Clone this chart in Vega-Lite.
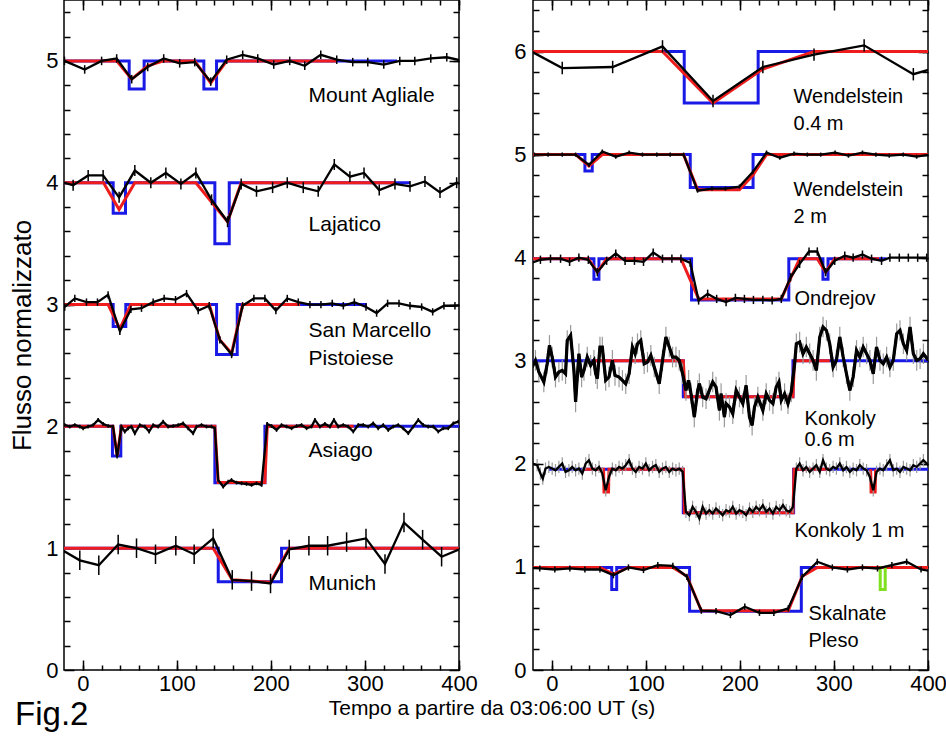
{
"$schema":"https://vega.github.io/schema/vega-lite/v6.json",
"background":"white",
"padding":{"left":9,"top":-2,"right":0,"bottom":0},
"bounds":"flush",
"spacing":74,
"config":{"view":{"stroke":"black","strokeWidth":1.5},
"axis":{"domain":false,"grid":false,"tickColor":"black","tickWidth":1.5,"labelColor":"black","labelFont":"Liberation Sans","labelFontSize":22,"labelFlush":false,"labelOverlap":false,"titleFont":"Liberation Sans","titleFontWeight":"normal","titleColor":"black"}},
"datasets":{
"oL":[
{"s":"MA","t":-19.5,"f":5.0,"e":0.035},{"s":"MA","t":2,"f":4.93,"e":0.035},{"s":"MA","t":20,"f":5.0,"e":0.035},{"s":"MA","t":36,"f":5.02,"e":0.035},{"s":"MA","t":52,"f":4.85,"e":0.035},{"s":"MA","t":69,"f":4.95,"e":0.035},{"s":"MA","t":86,"f":5.02,"e":0.035},{"s":"MA","t":103,"f":4.98,"e":0.035},{"s":"MA","t":119,"f":4.99,"e":0.035},{"s":"MA","t":136,"f":4.83,"e":0.035},{"s":"MA","t":153,"f":5.01,"e":0.035},{"s":"MA","t":170,"f":5.05,"e":0.035},{"s":"MA","t":186,"f":5.02,"e":0.035},{"s":"MA","t":203,"f":4.97,"e":0.035},{"s":"MA","t":220,"f":5.0,"e":0.035},{"s":"MA","t":236,"f":4.96,"e":0.035},{"s":"MA","t":253,"f":5.05,"e":0.035},{"s":"MA","t":270,"f":5.01,"e":0.035},{"s":"MA","t":287,"f":4.99,"e":0.035},{"s":"MA","t":303,"f":4.99,"e":0.035},{"s":"MA","t":320,"f":4.97,"e":0.035},{"s":"MA","t":337,"f":5.0,"e":0.035},{"s":"MA","t":353,"f":5.0,"e":0.035},{"s":"MA","t":370,"f":5.02,"e":0.035},{"s":"MA","t":387,"f":5.03,"e":0.035},{"s":"MA","t":404,"f":5.0,"e":0.035},
{"s":"LJ","t":-24,"f":4.01,"e":0.045},{"s":"LJ","t":-10.3,"f":3.98,"e":0.045},{"s":"LJ","t":5.7,"f":4.06,"e":0.045},{"s":"LJ","t":21.6,"f":4.06,"e":0.045},{"s":"LJ","t":38.6,"f":3.88,"e":0.045},{"s":"LJ","t":55.3,"f":4.1,"e":0.045},{"s":"LJ","t":72.3,"f":4.0,"e":0.045},{"s":"LJ","t":88.3,"f":4.08,"e":0.045},{"s":"LJ","t":104.3,"f":3.99,"e":0.045},{"s":"LJ","t":120.2,"f":4.08,"e":0.045},{"s":"LJ","t":136.9,"f":3.86,"e":0.045},{"s":"LJ","t":153.9,"f":3.68,"e":0.045},{"s":"LJ","t":168.4,"f":3.99,"e":0.045},{"s":"LJ","t":184.7,"f":3.93,"e":0.045},{"s":"LJ","t":201.8,"f":3.96,"e":0.045},{"s":"LJ","t":217.4,"f":4.0,"e":0.045},{"s":"LJ","t":234.4,"f":3.96,"e":0.045},{"s":"LJ","t":250.3,"f":3.93,"e":0.045},{"s":"LJ","t":267.4,"f":4.15,"e":0.045},{"s":"LJ","t":284,"f":4.05,"e":0.045},{"s":"LJ","t":299,"f":4.08,"e":0.045},{"s":"LJ","t":315.2,"f":3.94,"e":0.045},{"s":"LJ","t":331.9,"f":3.99,"e":0.045},{"s":"LJ","t":347.9,"f":3.97,"e":0.045},{"s":"LJ","t":363.8,"f":4.01,"e":0.045},{"s":"LJ","t":379.8,"f":3.92,"e":0.045},{"s":"LJ","t":397.5,"f":4.0,"e":0.045},{"s":"LJ","t":413,"f":3.98,"e":0.045},
{"s":"SM","t":-19.2,"f":2.98,"e":0.03},{"s":"SM","t":-8.5,"f":3.05,"e":0.03},{"s":"SM","t":3.9,"f":3.02,"e":0.03},{"s":"SM","t":15.6,"f":3.02,"e":0.03},{"s":"SM","t":26.9,"f":3.08,"e":0.03},{"s":"SM","t":39.4,"f":2.78,"e":0.03},{"s":"SM","t":51.1,"f":2.96,"e":0.03},{"s":"SM","t":62.4,"f":2.97,"e":0.03},{"s":"SM","t":74.8,"f":3.02,"e":0.03},{"s":"SM","t":86.5,"f":3.05,"e":0.03},{"s":"SM","t":98.6,"f":3.04,"e":0.03},{"s":"SM","t":110.3,"f":3.09,"e":0.03},{"s":"SM","t":122.7,"f":2.95,"e":0.03},{"s":"SM","t":134.4,"f":2.99,"e":0.03},{"s":"SM","t":145.7,"f":2.71,"e":0.03},{"s":"SM","t":158.2,"f":2.59,"e":0.03},{"s":"SM","t":169.9,"f":2.99,"e":0.03},{"s":"SM","t":181.9,"f":3.05,"e":0.03},{"s":"SM","t":193.6,"f":3.05,"e":0.03},{"s":"SM","t":205.3,"f":2.95,"e":0.03},{"s":"SM","t":217.4,"f":3.05,"e":0.03},{"s":"SM","t":229.1,"f":3.02,"e":0.03},{"s":"SM","t":241.5,"f":3.0,"e":0.03},{"s":"SM","t":253.2,"f":3.0,"e":0.03},{"s":"SM","t":265.2,"f":3.01,"e":0.03},{"s":"SM","t":277,"f":2.99,"e":0.03},{"s":"SM","t":288.7,"f":3.02,"e":0.03},{"s":"SM","t":301.1,"f":2.98,"e":0.03},{"s":"SM","t":312.4,"f":2.93,"e":0.03},{"s":"SM","t":324.1,"f":3.01,"e":0.03},{"s":"SM","t":336.2,"f":3.01,"e":0.03},{"s":"SM","t":347.9,"f":2.99,"e":0.03},{"s":"SM","t":360.3,"f":2.98,"e":0.03},{"s":"SM","t":372,"f":2.94,"e":0.03},{"s":"SM","t":384,"f":2.99,"e":0.03},{"s":"SM","t":395.7,"f":2.99,"e":0.03},{"s":"SM","t":407,"f":3.0,"e":0.03},
{"s":"AS","t":-24.5,"f":2.003,"e":0.015},{"s":"AS","t":-19.2,"f":2.011,"e":0.015},{"s":"AS","t":-13.9,"f":1.998,"e":0.015},{"s":"AS","t":-8.5,"f":2.011,"e":0.015},{"s":"AS","t":-3.2,"f":1.998,"e":0.015},{"s":"AS","t":0.3,"f":1.984,"e":0.015},{"s":"AS","t":5.6,"f":1.998,"e":0.015},{"s":"AS","t":11,"f":2.011,"e":0.015},{"s":"AS","t":16.3,"f":2.053,"e":0.015},{"s":"AS","t":21.6,"f":2.02,"e":0.015},{"s":"AS","t":26.9,"f":2.003,"e":0.015},{"s":"AS","t":32.2,"f":1.998,"e":0.015},{"s":"AS","t":36.5,"f":1.751,"e":0.015},{"s":"AS","t":41.1,"f":1.998,"e":0.015},{"s":"AS","t":44.6,"f":1.957,"e":0.015},{"s":"AS","t":48.2,"f":1.984,"e":0.015},{"s":"AS","t":51.7,"f":1.998,"e":0.015},{"s":"AS","t":55.3,"f":1.943,"e":0.015},{"s":"AS","t":60.6,"f":2.011,"e":0.015},{"s":"AS","t":65.9,"f":1.998,"e":0.015},{"s":"AS","t":70.5,"f":1.957,"e":0.015},{"s":"AS","t":74.8,"f":2.011,"e":0.015},{"s":"AS","t":80.1,"f":1.998,"e":0.015},{"s":"AS","t":85.4,"f":2.039,"e":0.015},{"s":"AS","t":90.7,"f":1.998,"e":0.015},{"s":"AS","t":96.1,"f":2.003,"e":0.015},{"s":"AS","t":101.4,"f":2.011,"e":0.015},{"s":"AS","t":106.7,"f":2.025,"e":0.015},{"s":"AS","t":112,"f":1.984,"e":0.015},{"s":"AS","t":117.3,"f":1.943,"e":0.015},{"s":"AS","t":120.9,"f":1.998,"e":0.015},{"s":"AS","t":126.2,"f":2.011,"e":0.015},{"s":"AS","t":131.5,"f":1.998,"e":0.015},{"s":"AS","t":136.8,"f":1.998,"e":0.015},{"s":"AS","t":140.4,"f":1.984,"e":0.015},{"s":"AS","t":143.9,"f":1.56,"e":0.015},{"s":"AS","t":149.3,"f":1.505,"e":0.015},{"s":"AS","t":154.6,"f":1.546,"e":0.015},{"s":"AS","t":158.1,"f":1.56,"e":0.015},{"s":"AS","t":163.4,"f":1.538,"e":0.015},{"s":"AS","t":168.8,"f":1.532,"e":0.015},{"s":"AS","t":174.1,"f":1.527,"e":0.015},{"s":"AS","t":179.4,"f":1.519,"e":0.015},{"s":"AS","t":184.7,"f":1.532,"e":0.015},{"s":"AS","t":190,"f":1.519,"e":0.015},{"s":"AS","t":193.6,"f":1.806,"e":0.015},{"s":"AS","t":196.1,"f":2.02,"e":0.015},{"s":"AS","t":200.7,"f":2.003,"e":0.015},{"s":"AS","t":206,"f":1.97,"e":0.015},{"s":"AS","t":211.3,"f":2.011,"e":0.015},{"s":"AS","t":216.6,"f":1.998,"e":0.015},{"s":"AS","t":222,"f":1.984,"e":0.015},{"s":"AS","t":227.3,"f":2.003,"e":0.015},{"s":"AS","t":232.6,"f":2.011,"e":0.015},{"s":"AS","t":237.9,"f":1.984,"e":0.015},{"s":"AS","t":243.2,"f":1.998,"e":0.015},{"s":"AS","t":246.8,"f":2.053,"e":0.015},{"s":"AS","t":252.1,"f":1.998,"e":0.015},{"s":"AS","t":257.4,"f":2.02,"e":0.015},{"s":"AS","t":262.7,"f":1.998,"e":0.015},{"s":"AS","t":267,"f":2.053,"e":0.015},{"s":"AS","t":271.6,"f":1.998,"e":0.015},{"s":"AS","t":276.9,"f":2.011,"e":0.015},{"s":"AS","t":282.2,"f":1.998,"e":0.015},{"s":"AS","t":287.6,"f":1.957,"e":0.015},{"s":"AS","t":292.9,"f":2.011,"e":0.015},{"s":"AS","t":298.2,"f":2.011,"e":0.015},{"s":"AS","t":303.5,"f":1.998,"e":0.015},{"s":"AS","t":308.8,"f":2.025,"e":0.015},{"s":"AS","t":314.1,"f":1.984,"e":0.015},{"s":"AS","t":319.5,"f":2.011,"e":0.015},{"s":"AS","t":324.8,"f":1.97,"e":0.015},{"s":"AS","t":330.1,"f":1.998,"e":0.015},{"s":"AS","t":335.4,"f":2.011,"e":0.015},{"s":"AS","t":340.7,"f":1.984,"e":0.015},{"s":"AS","t":346.1,"f":1.943,"e":0.015},{"s":"AS","t":351.4,"f":1.998,"e":0.015},{"s":"AS","t":356.7,"f":2.053,"e":0.015},{"s":"AS","t":362,"f":2.011,"e":0.015},{"s":"AS","t":367.3,"f":1.998,"e":0.015},{"s":"AS","t":372.7,"f":1.998,"e":0.015},{"s":"AS","t":378,"f":1.957,"e":0.015},{"s":"AS","t":383.3,"f":1.984,"e":0.015},{"s":"AS","t":388.6,"f":1.984,"e":0.015},{"s":"AS","t":394,"f":2.025,"e":0.015},{"s":"AS","t":399.3,"f":2.039,"e":0.015},
{"s":"MU","t":-23,"f":0.99,"e":0.08},{"s":"MU","t":-3.2,"f":0.9,"e":0.08},{"s":"MU","t":17,"f":0.86,"e":0.08},{"s":"MU","t":37.6,"f":1.03,"e":0.08},{"s":"MU","t":57.1,"f":1.0,"e":0.08},{"s":"MU","t":77.3,"f":0.95,"e":0.08},{"s":"MU","t":98.9,"f":1.02,"e":0.08},{"s":"MU","t":118.4,"f":0.95,"e":0.08},{"s":"MU","t":138.6,"f":1.08,"e":0.08},{"s":"MU","t":158.9,"f":0.74,"e":0.08},{"s":"MU","t":179.4,"f":0.73,"e":0.08},{"s":"MU","t":199.6,"f":0.71,"e":0.08},{"s":"MU","t":219.5,"f":0.99,"e":0.08},{"s":"MU","t":240.4,"f":1.02,"e":0.08},{"s":"MU","t":260.3,"f":1.02,"e":0.08},{"s":"MU","t":280.5,"f":1.05,"e":0.08},{"s":"MU","t":301.1,"f":1.08,"e":0.08},{"s":"MU","t":321.3,"f":0.87,"e":0.08},{"s":"MU","t":341.5,"f":1.21,"e":0.08},{"s":"MU","t":361.3,"f":1.07,"e":0.08},{"s":"MU","t":381.5,"f":0.93,"e":0.08},{"s":"MU","t":400.4,"f":0.99,"e":0.08}
],
"rL":[
{"s":"MA","t":-20,"f":5},{"s":"MA","t":36,"f":5},{"s":"MA","t":52,"f":4.85},{"s":"MA","t":69,"f":4.96},{"s":"MA","t":86,"f":5},{"s":"MA","t":119,"f":5},{"s":"MA","t":136,"f":4.82},{"s":"MA","t":153,"f":5},{"s":"MA","t":270,"f":5},
{"s":"LJ","t":-20,"f":4},{"s":"LJ","t":22,"f":4},{"s":"LJ","t":38.6,"f":3.78},{"s":"LJ","t":55.3,"f":4},{"s":"LJ","t":120.2,"f":4},{"s":"LJ","t":153.9,"f":3.68},{"s":"LJ","t":168.4,"f":4},{"s":"LJ","t":332,"f":4},
{"s":"SM","t":-20,"f":3},{"s":"SM","t":26.9,"f":3},{"s":"SM","t":39.4,"f":2.8},{"s":"SM","t":51.1,"f":3},{"s":"SM","t":134.4,"f":3},{"s":"SM","t":145.7,"f":2.71},{"s":"SM","t":158.2,"f":2.6},{"s":"SM","t":169.9,"f":3},{"s":"SM","t":231,"f":3},
{"s":"AS","t":-20,"f":2},{"s":"AS","t":32,"f":2},{"s":"AS","t":36.5,"f":1.76},{"s":"AS","t":41.1,"f":2},{"s":"AS","t":140.4,"f":2},{"s":"AS","t":144,"f":1.54},{"s":"AS","t":193.6,"f":1.54},{"s":"AS","t":196.1,"f":2},{"s":"AS","t":288,"f":2},
{"s":"MU","t":-20,"f":1},{"s":"MU","t":138.6,"f":1},{"s":"MU","t":158.9,"f":0.74},{"s":"MU","t":179.4,"f":0.73},{"s":"MU","t":199.6,"f":0.72},{"s":"MU","t":219.5,"f":1},{"s":"MU","t":400,"f":1}
],
"bL":[
{"s":"MA","t":-20,"f":5},{"s":"MA","t":49.3,"f":4.77},{"s":"MA","t":65.2,"f":5},{"s":"MA","t":128.7,"f":4.77},{"s":"MA","t":142.2,"f":5},{"s":"MA","t":334,"f":5},
{"s":"LJ","t":-20,"f":4},{"s":"LJ","t":32.3,"f":3.75},{"s":"LJ","t":45.4,"f":4},{"s":"LJ","t":140.4,"f":3.5},{"s":"LJ","t":155.7,"f":4},{"s":"LJ","t":348,"f":4},
{"s":"SM","t":-20,"f":3},{"s":"SM","t":32.3,"f":2.82},{"s":"SM","t":45.7,"f":3},{"s":"SM","t":142.2,"f":2.59},{"s":"SM","t":164.2,"f":3},{"s":"SM","t":302,"f":3},
{"s":"AS","t":-20,"f":2},{"s":"AS","t":31.5,"f":1.757},{"s":"AS","t":40.4,"f":2},{"s":"AS","t":140.4,"f":1.538},{"s":"AS","t":193.6,"f":2},{"s":"AS","t":400,"f":2},
{"s":"MU","t":-20,"f":1},{"s":"MU","t":144,"f":0.725},{"s":"MU","t":211.3,"f":1},{"s":"MU","t":400,"f":1}
],
"lL":[
{"txt":"Mount Agliale","t":240,"f":4.66},{"txt":"Lajatico","t":240,"f":3.6},{"txt":"San Marcello","t":240,"f":2.73},{"txt":"Pistoiese","t":240,"f":2.5},{"txt":"Asiago","t":240,"f":1.75},{"txt":"Munich","t":240,"f":0.66}
],
"oR":[
{"s":"W04","t":-42,"f":6.1,"e":0.06},{"s":"W04","t":11.1,"f":5.84,"e":0.06},{"s":"W04","t":64.7,"f":5.85,"e":0.06},{"s":"W04","t":117.7,"f":6.05,"e":0.06},{"s":"W04","t":171.4,"f":5.52,"e":0.06},{"s":"W04","t":224.4,"f":5.85,"e":0.06},{"s":"W04","t":278.8,"f":5.97,"e":0.06},{"s":"W04","t":332.1,"f":6.06,"e":0.06},{"s":"W04","t":384.4,"f":5.78,"e":0.06},{"s":"W04","t":437.7,"f":5.92,"e":0.06},
{"s":"W2","t":-18.5,"f":5.0,"e":0.02},{"s":"W2","t":-3.9,"f":5.0,"e":0.02},{"s":"W2","t":11.1,"f":5.0,"e":0.02},{"s":"W2","t":25.3,"f":5.0,"e":0.02},{"s":"W2","t":39.5,"f":4.9,"e":0.02},{"s":"W2","t":53.7,"f":5.03,"e":0.02},{"s":"W2","t":68,"f":4.98,"e":0.02},{"s":"W2","t":82.2,"f":5.02,"e":0.02},{"s":"W2","t":96.4,"f":5.0,"e":0.02},{"s":"W2","t":111.7,"f":5.0,"e":0.02},{"s":"W2","t":125.9,"f":5.0,"e":0.02},{"s":"W2","t":140.1,"f":5.0,"e":0.02},{"s":"W2","t":155,"f":4.65,"e":0.02},{"s":"W2","t":170.3,"f":4.67,"e":0.02},{"s":"W2","t":184.6,"f":4.67,"e":0.02},{"s":"W2","t":199.5,"f":4.69,"e":0.02},{"s":"W2","t":213.7,"f":4.83,"e":0.02},{"s":"W2","t":228.3,"f":5.02,"e":0.02},{"s":"W2","t":242.5,"f":4.97,"e":0.02},{"s":"W2","t":257.5,"f":5.01,"e":0.02},{"s":"W2","t":271.7,"f":5.0,"e":0.02},{"s":"W2","t":285.9,"f":5.0,"e":0.02},{"s":"W2","t":301.2,"f":5.02,"e":0.02},{"s":"W2","t":315.4,"f":4.99,"e":0.02},{"s":"W2","t":330.3,"f":5.02,"e":0.02},{"s":"W2","t":344.6,"f":5.0,"e":0.02},{"s":"W2","t":358.8,"f":4.99,"e":0.02},{"s":"W2","t":373.7,"f":5.0,"e":0.02},{"s":"W2","t":387.9,"f":4.98,"e":0.02},{"s":"W2","t":402.2,"f":5.0,"e":0.02},
{"s":"ON","t":-24.5,"f":3.94,"e":0.04},{"s":"ON","t":-12.1,"f":3.98,"e":0.04},{"s":"ON","t":-1.4,"f":3.99,"e":0.04},{"s":"ON","t":9.3,"f":3.99,"e":0.04},{"s":"ON","t":18.9,"f":3.96,"e":0.04},{"s":"ON","t":28.8,"f":4.0,"e":0.04},{"s":"ON","t":38.8,"f":3.98,"e":0.04},{"s":"ON","t":48.4,"f":3.86,"e":0.04},{"s":"ON","t":58.3,"f":3.97,"e":0.04},{"s":"ON","t":68,"f":4.04,"e":0.04},{"s":"ON","t":77.9,"f":3.97,"e":0.04},{"s":"ON","t":87.9,"f":3.97,"e":0.04},{"s":"ON","t":97.5,"f":3.96,"e":0.04},{"s":"ON","t":107.8,"f":4.05,"e":0.04},{"s":"ON","t":117.7,"f":3.99,"e":0.04},{"s":"ON","t":127.7,"f":3.99,"e":0.04},{"s":"ON","t":137.3,"f":3.99,"e":0.04},{"s":"ON","t":147.2,"f":3.95,"e":0.04},{"s":"ON","t":156.1,"f":3.585,"e":0.04},{"s":"ON","t":165.7,"f":3.65,"e":0.04},{"s":"ON","t":175.3,"f":3.6,"e":0.04},{"s":"ON","t":185.3,"f":3.57,"e":0.04},{"s":"ON","t":195.2,"f":3.61,"e":0.04},{"s":"ON","t":204.8,"f":3.6,"e":0.04},{"s":"ON","t":214.4,"f":3.59,"e":0.04},{"s":"ON","t":224.4,"f":3.59,"e":0.04},{"s":"ON","t":234.3,"f":3.585,"e":0.04},{"s":"ON","t":244,"f":3.6,"e":0.04},{"s":"ON","t":253.9,"f":3.81,"e":0.04},{"s":"ON","t":263.5,"f":3.94,"e":0.04},{"s":"ON","t":273.5,"f":4.06,"e":0.04},{"s":"ON","t":282.3,"f":4.06,"e":0.04},{"s":"ON","t":291.2,"f":3.86,"e":0.04},{"s":"ON","t":300.8,"f":3.97,"e":0.04},{"s":"ON","t":311.5,"f":4.02,"e":0.04},{"s":"ON","t":320.4,"f":4.0,"e":0.04},{"s":"ON","t":330.3,"f":4.03,"e":0.04},{"s":"ON","t":340,"f":3.99,"e":0.04},{"s":"ON","t":350.6,"f":3.97,"e":0.04},{"s":"ON","t":359.5,"f":4.0,"e":0.04},{"s":"ON","t":369.5,"f":4.0,"e":0.04},{"s":"ON","t":379.1,"f":4.0,"e":0.04},{"s":"ON","t":389,"f":4.0,"e":0.04},{"s":"ON","t":398.6,"f":4.0,"e":0.04},
{"s":"K6","t":-20.9,"f":2.939,"e":0.1},{"s":"K6","t":-17.4,"f":3.004,"e":0.1},{"s":"K6","t":-13.8,"f":2.891,"e":0.1},{"s":"K6","t":-8.5,"f":2.794,"e":0.1},{"s":"K6","t":-4.9,"f":2.971,"e":0.1},{"s":"K6","t":-2.5,"f":3.149,"e":0.1},{"s":"K6","t":0.4,"f":3.036,"e":0.1},{"s":"K6","t":3.9,"f":2.842,"e":0.1},{"s":"K6","t":7.5,"f":2.891,"e":0.1},{"s":"K6","t":11.1,"f":2.907,"e":0.1},{"s":"K6","t":14.6,"f":2.874,"e":0.1},{"s":"K6","t":16.4,"f":3.197,"e":0.1},{"s":"K6","t":20,"f":3.246,"e":0.1},{"s":"K6","t":23.5,"f":2.907,"e":0.1},{"s":"K6","t":25.3,"f":2.6,"e":0.1},{"s":"K6","t":28.8,"f":3.068,"e":0.1},{"s":"K6","t":31.7,"f":2.842,"e":0.1},{"s":"K6","t":34.2,"f":2.907,"e":0.1},{"s":"K6","t":37.7,"f":3.036,"e":0.1},{"s":"K6","t":41.3,"f":2.955,"e":0.1},{"s":"K6","t":44.8,"f":3.004,"e":0.1},{"s":"K6","t":46.6,"f":2.874,"e":0.1},{"s":"K6","t":48.4,"f":2.826,"e":0.1},{"s":"K6","t":51.2,"f":3.133,"e":0.1},{"s":"K6","t":53.7,"f":3.133,"e":0.1},{"s":"K6","t":57.3,"f":2.81,"e":0.1},{"s":"K6","t":60.8,"f":2.842,"e":0.1},{"s":"K6","t":64.4,"f":3.004,"e":0.1},{"s":"K6","t":67.2,"f":2.858,"e":0.1},{"s":"K6","t":71.5,"f":2.842,"e":0.1},{"s":"K6","t":75.1,"f":2.81,"e":0.1},{"s":"K6","t":78.6,"f":2.777,"e":0.1},{"s":"K6","t":82.2,"f":2.874,"e":0.1},{"s":"K6","t":85.7,"f":3.133,"e":0.1},{"s":"K6","t":88.6,"f":3.068,"e":0.1},{"s":"K6","t":91.1,"f":3.165,"e":0.1},{"s":"K6","t":94.6,"f":3.197,"e":0.1},{"s":"K6","t":98.2,"f":2.971,"e":0.1},{"s":"K6","t":101.7,"f":2.987,"e":0.1},{"s":"K6","t":105.3,"f":3.052,"e":0.1},{"s":"K6","t":108.9,"f":2.939,"e":0.1},{"s":"K6","t":114.2,"f":2.777,"e":0.1},{"s":"K6","t":117.7,"f":3.004,"e":0.1},{"s":"K6","t":121.3,"f":3.23,"e":0.1},{"s":"K6","t":124.9,"f":3.133,"e":0.1},{"s":"K6","t":128.4,"f":3.036,"e":0.1},{"s":"K6","t":132,"f":3.036,"e":0.1},{"s":"K6","t":135.5,"f":3.004,"e":0.1},{"s":"K6","t":139.1,"f":2.874,"e":0.1},{"s":"K6","t":142.6,"f":2.713,"e":0.1},{"s":"K6","t":145.5,"f":2.81,"e":0.1},{"s":"K6","t":148,"f":2.681,"e":0.1},{"s":"K6","t":151.5,"f":2.454,"e":0.1},{"s":"K6","t":155.1,"f":2.713,"e":0.1},{"s":"K6","t":156.9,"f":2.777,"e":0.1},{"s":"K6","t":160.4,"f":2.648,"e":0.1},{"s":"K6","t":164,"f":2.632,"e":0.1},{"s":"K6","t":167.5,"f":2.713,"e":0.1},{"s":"K6","t":171.1,"f":2.794,"e":0.1},{"s":"K6","t":174.6,"f":2.745,"e":0.1},{"s":"K6","t":178.2,"f":2.519,"e":0.1},{"s":"K6","t":180,"f":2.681,"e":0.1},{"s":"K6","t":183.5,"f":2.454,"e":0.1},{"s":"K6","t":185.3,"f":2.584,"e":0.1},{"s":"K6","t":188.9,"f":2.551,"e":0.1},{"s":"K6","t":192.4,"f":2.487,"e":0.1},{"s":"K6","t":196,"f":2.713,"e":0.1},{"s":"K6","t":199.5,"f":2.648,"e":0.1},{"s":"K6","t":203.1,"f":2.584,"e":0.1},{"s":"K6","t":206.6,"f":2.761,"e":0.1},{"s":"K6","t":210.2,"f":2.454,"e":0.1},{"s":"K6","t":213,"f":2.374,"e":0.1},{"s":"K6","t":215.5,"f":2.551,"e":0.1},{"s":"K6","t":219.1,"f":2.648,"e":0.1},{"s":"K6","t":224.4,"f":2.519,"e":0.1},{"s":"K6","t":228,"f":2.681,"e":0.1},{"s":"K6","t":231.5,"f":2.616,"e":0.1},{"s":"K6","t":235.1,"f":2.584,"e":0.1},{"s":"K6","t":238.6,"f":2.745,"e":0.1},{"s":"K6","t":241.5,"f":2.794,"e":0.1},{"s":"K6","t":244,"f":2.616,"e":0.1},{"s":"K6","t":247.5,"f":2.681,"e":0.1},{"s":"K6","t":251.1,"f":2.584,"e":0.1},{"s":"K6","t":254.6,"f":2.697,"e":0.1},{"s":"K6","t":258.2,"f":2.971,"e":0.1},{"s":"K6","t":260,"f":3.165,"e":0.1},{"s":"K6","t":263.5,"f":3.181,"e":0.1},{"s":"K6","t":267.1,"f":3.068,"e":0.1},{"s":"K6","t":270.6,"f":3.133,"e":0.1},{"s":"K6","t":274.2,"f":3.068,"e":0.1},{"s":"K6","t":277.8,"f":3.004,"e":0.1},{"s":"K6","t":281.3,"f":2.907,"e":0.1},{"s":"K6","t":284.9,"f":3.23,"e":0.1},{"s":"K6","t":288.4,"f":3.327,"e":0.1},{"s":"K6","t":292,"f":3.294,"e":0.1},{"s":"K6","t":295.5,"f":3.165,"e":0.1},{"s":"K6","t":299.1,"f":2.939,"e":0.1},{"s":"K6","t":302.6,"f":3.004,"e":0.1},{"s":"K6","t":306.2,"f":3.23,"e":0.1},{"s":"K6","t":309.8,"f":3.036,"e":0.1},{"s":"K6","t":313.3,"f":2.874,"e":0.1},{"s":"K6","t":316.9,"f":2.713,"e":0.1},{"s":"K6","t":320.4,"f":2.842,"e":0.1},{"s":"K6","t":324,"f":3.1,"e":0.1},{"s":"K6","t":327.5,"f":3.036,"e":0.1},{"s":"K6","t":331.1,"f":3.133,"e":0.1},{"s":"K6","t":334.7,"f":3.068,"e":0.1},{"s":"K6","t":338.2,"f":3.004,"e":0.1},{"s":"K6","t":341.8,"f":2.874,"e":0.1},{"s":"K6","t":345.3,"f":3.133,"e":0.1},{"s":"K6","t":348.9,"f":3.004,"e":0.1},{"s":"K6","t":352.4,"f":2.971,"e":0.1},{"s":"K6","t":356,"f":3.036,"e":0.1},{"s":"K6","t":359.5,"f":2.939,"e":0.1},{"s":"K6","t":363.1,"f":3.004,"e":0.1},{"s":"K6","t":366.7,"f":3.262,"e":0.1},{"s":"K6","t":370.2,"f":3.294,"e":0.1},{"s":"K6","t":373.8,"f":3.165,"e":0.1},{"s":"K6","t":377.3,"f":3.1,"e":0.1},{"s":"K6","t":380.9,"f":3.327,"e":0.1},{"s":"K6","t":384.4,"f":3.068,"e":0.1},{"s":"K6","t":388,"f":3.004,"e":0.1},{"s":"K6","t":391.6,"f":3.02,"e":0.1},{"s":"K6","t":395.1,"f":3.068,"e":0.1},{"s":"K6","t":400.4,"f":3.004,"e":0.1},
{"s":"K1","t":-20.9,"f":2.003,"e":0.06},{"s":"K1","t":-15.6,"f":1.987,"e":0.06},{"s":"K1","t":-12.1,"f":1.906,"e":0.06},{"s":"K1","t":-9.6,"f":1.857,"e":0.06},{"s":"K1","t":-6.7,"f":1.954,"e":0.06},{"s":"K1","t":-3.2,"f":1.97,"e":0.06},{"s":"K1","t":0.4,"f":1.954,"e":0.06},{"s":"K1","t":3.9,"f":1.938,"e":0.06},{"s":"K1","t":7.5,"f":1.97,"e":0.06},{"s":"K1","t":11.1,"f":2.003,"e":0.06},{"s":"K1","t":14.6,"f":1.922,"e":0.06},{"s":"K1","t":18.2,"f":1.938,"e":0.06},{"s":"K1","t":21.7,"f":1.97,"e":0.06},{"s":"K1","t":25.3,"f":1.938,"e":0.06},{"s":"K1","t":28.8,"f":1.954,"e":0.06},{"s":"K1","t":32.4,"f":1.906,"e":0.06},{"s":"K1","t":36,"f":2.003,"e":0.06},{"s":"K1","t":39.5,"f":2.035,"e":0.06},{"s":"K1","t":43.1,"f":1.954,"e":0.06},{"s":"K1","t":46.6,"f":1.938,"e":0.06},{"s":"K1","t":50.2,"f":1.97,"e":0.06},{"s":"K1","t":53.7,"f":1.906,"e":0.06},{"s":"K1","t":57.3,"f":1.744,"e":0.06},{"s":"K1","t":60.8,"f":1.873,"e":0.06},{"s":"K1","t":64.4,"f":1.954,"e":0.06},{"s":"K1","t":68,"f":1.938,"e":0.06},{"s":"K1","t":71.5,"f":1.97,"e":0.06},{"s":"K1","t":75.1,"f":1.954,"e":0.06},{"s":"K1","t":78.6,"f":1.987,"e":0.06},{"s":"K1","t":82.2,"f":2.035,"e":0.06},{"s":"K1","t":85.7,"f":1.954,"e":0.06},{"s":"K1","t":89.3,"f":1.922,"e":0.06},{"s":"K1","t":92.8,"f":1.97,"e":0.06},{"s":"K1","t":96.4,"f":1.954,"e":0.06},{"s":"K1","t":100,"f":2.003,"e":0.06},{"s":"K1","t":103.5,"f":1.938,"e":0.06},{"s":"K1","t":107.1,"f":1.97,"e":0.06},{"s":"K1","t":110.6,"f":1.987,"e":0.06},{"s":"K1","t":114.2,"f":1.922,"e":0.06},{"s":"K1","t":117.7,"f":1.954,"e":0.06},{"s":"K1","t":121.3,"f":1.97,"e":0.06},{"s":"K1","t":124.9,"f":1.922,"e":0.06},{"s":"K1","t":128.4,"f":1.954,"e":0.06},{"s":"K1","t":132,"f":1.938,"e":0.06},{"s":"K1","t":135.5,"f":1.954,"e":0.06},{"s":"K1","t":139.1,"f":1.922,"e":0.06},{"s":"K1","t":142.6,"f":1.534,"e":0.06},{"s":"K1","t":146.2,"f":1.502,"e":0.06},{"s":"K1","t":149.7,"f":1.583,"e":0.06},{"s":"K1","t":153.3,"f":1.534,"e":0.06},{"s":"K1","t":156.9,"f":1.47,"e":0.06},{"s":"K1","t":160.4,"f":1.583,"e":0.06},{"s":"K1","t":164,"f":1.518,"e":0.06},{"s":"K1","t":167.5,"f":1.55,"e":0.06},{"s":"K1","t":171.1,"f":1.518,"e":0.06},{"s":"K1","t":174.6,"f":1.567,"e":0.06},{"s":"K1","t":178.2,"f":1.534,"e":0.06},{"s":"K1","t":181.7,"f":1.502,"e":0.06},{"s":"K1","t":185.3,"f":1.55,"e":0.06},{"s":"K1","t":188.9,"f":1.534,"e":0.06},{"s":"K1","t":192.4,"f":1.583,"e":0.06},{"s":"K1","t":196,"f":1.518,"e":0.06},{"s":"K1","t":199.5,"f":1.55,"e":0.06},{"s":"K1","t":203.1,"f":1.534,"e":0.06},{"s":"K1","t":206.6,"f":1.502,"e":0.06},{"s":"K1","t":210.2,"f":1.567,"e":0.06},{"s":"K1","t":213.7,"f":1.534,"e":0.06},{"s":"K1","t":217.3,"f":1.583,"e":0.06},{"s":"K1","t":220.8,"f":1.55,"e":0.06},{"s":"K1","t":224.4,"f":1.599,"e":0.06},{"s":"K1","t":228,"f":1.534,"e":0.06},{"s":"K1","t":231.5,"f":1.567,"e":0.06},{"s":"K1","t":235.1,"f":1.518,"e":0.06},{"s":"K1","t":238.6,"f":1.583,"e":0.06},{"s":"K1","t":242.2,"f":1.55,"e":0.06},{"s":"K1","t":245.8,"f":1.599,"e":0.06},{"s":"K1","t":249.3,"f":1.55,"e":0.06},{"s":"K1","t":252.9,"f":1.534,"e":0.06},{"s":"K1","t":256.4,"f":1.583,"e":0.06},{"s":"K1","t":260,"f":1.954,"e":0.06},{"s":"K1","t":263.5,"f":2.003,"e":0.06},{"s":"K1","t":267.1,"f":1.938,"e":0.06},{"s":"K1","t":270.6,"f":1.97,"e":0.06},{"s":"K1","t":274.2,"f":1.922,"e":0.06},{"s":"K1","t":277.8,"f":1.954,"e":0.06},{"s":"K1","t":281.3,"f":1.987,"e":0.06},{"s":"K1","t":284.9,"f":1.922,"e":0.06},{"s":"K1","t":288.4,"f":2.035,"e":0.06},{"s":"K1","t":292,"f":1.954,"e":0.06},{"s":"K1","t":295.5,"f":1.938,"e":0.06},{"s":"K1","t":299.1,"f":1.97,"e":0.06},{"s":"K1","t":302.6,"f":1.954,"e":0.06},{"s":"K1","t":306.2,"f":2.003,"e":0.06},{"s":"K1","t":309.8,"f":1.938,"e":0.06},{"s":"K1","t":313.3,"f":1.97,"e":0.06},{"s":"K1","t":316.9,"f":1.922,"e":0.06},{"s":"K1","t":320.4,"f":1.954,"e":0.06},{"s":"K1","t":324,"f":1.938,"e":0.06},{"s":"K1","t":327.5,"f":1.987,"e":0.06},{"s":"K1","t":331.1,"f":1.954,"e":0.06},{"s":"K1","t":334.7,"f":1.938,"e":0.06},{"s":"K1","t":338.2,"f":1.873,"e":0.06},{"s":"K1","t":341.8,"f":1.744,"e":0.06},{"s":"K1","t":345.3,"f":1.922,"e":0.06},{"s":"K1","t":348.9,"f":1.954,"e":0.06},{"s":"K1","t":352.4,"f":1.938,"e":0.06},{"s":"K1","t":356,"f":1.987,"e":0.06},{"s":"K1","t":359.5,"f":2.035,"e":0.06},{"s":"K1","t":363.1,"f":1.938,"e":0.06},{"s":"K1","t":366.7,"f":1.954,"e":0.06},{"s":"K1","t":370.2,"f":1.922,"e":0.06},{"s":"K1","t":373.8,"f":1.97,"e":0.06},{"s":"K1","t":377.3,"f":1.954,"e":0.06},{"s":"K1","t":380.9,"f":1.938,"e":0.06},{"s":"K1","t":384.4,"f":1.987,"e":0.06},{"s":"K1","t":388,"f":1.97,"e":0.06},{"s":"K1","t":391.6,"f":2.003,"e":0.06},{"s":"K1","t":395.1,"f":2.035,"e":0.06},{"s":"K1","t":400.4,"f":1.987,"e":0.06},
{"s":"SP","t":-28.8,"f":0.995,"e":0.03},{"s":"SP","t":-12.8,"f":0.985,"e":0.03},{"s":"SP","t":3.2,"f":0.975,"e":0.03},{"s":"SP","t":19.2,"f":0.985,"e":0.03},{"s":"SP","t":35.2,"f":0.975,"e":0.03},{"s":"SP","t":51.2,"f":0.975,"e":0.03},{"s":"SP","t":65.5,"f":0.92,"e":0.03},{"s":"SP","t":81.5,"f":0.995,"e":0.03},{"s":"SP","t":97.5,"f":0.97,"e":0.03},{"s":"SP","t":112.7,"f":1.017,"e":0.03},{"s":"SP","t":128.7,"f":1.01,"e":0.03},{"s":"SP","t":143.7,"f":0.904,"e":0.03},{"s":"SP","t":159,"f":0.575,"e":0.03},{"s":"SP","t":174.6,"f":0.572,"e":0.03},{"s":"SP","t":189.9,"f":0.533,"e":0.03},{"s":"SP","t":205.2,"f":0.614,"e":0.03},{"s":"SP","t":220.8,"f":0.555,"e":0.03},{"s":"SP","t":236.1,"f":0.555,"e":0.03},{"s":"SP","t":251.4,"f":0.597,"e":0.03},{"s":"SP","t":266.3,"f":0.904,"e":0.03},{"s":"SP","t":282.3,"f":1.05,"e":0.03},{"s":"SP","t":298.3,"f":0.995,"e":0.03},{"s":"SP","t":314.3,"f":0.975,"e":0.03},{"s":"SP","t":330.3,"f":0.995,"e":0.03},{"s":"SP","t":346.3,"f":0.985,"e":0.03},{"s":"SP","t":361.6,"f":1.017,"e":0.03},{"s":"SP","t":377.3,"f":1.05,"e":0.03},{"s":"SP","t":392.6,"f":0.975,"e":0.03},{"s":"SP","t":408.6,"f":0.95,"e":0.03}
],
"rR":[
{"s":"W04","t":-20,"f":6},{"s":"W04","t":117.7,"f":6},{"s":"W04","t":171.4,"f":5.5},{"s":"W04","t":224.4,"f":5.83},{"s":"W04","t":278.8,"f":6},{"s":"W04","t":400,"f":6},
{"s":"W2","t":-20,"f":5},{"s":"W2","t":25.3,"f":5},{"s":"W2","t":39.5,"f":4.89},{"s":"W2","t":53.7,"f":5},{"s":"W2","t":140.1,"f":5},{"s":"W2","t":155,"f":4.66},{"s":"W2","t":199.5,"f":4.66},{"s":"W2","t":213.7,"f":4.8},{"s":"W2","t":228.3,"f":5},{"s":"W2","t":400,"f":5},
{"s":"ON","t":-20,"f":3.99},{"s":"ON","t":38.8,"f":3.99},{"s":"ON","t":48.4,"f":3.86},{"s":"ON","t":58.3,"f":3.99},{"s":"ON","t":137.3,"f":3.99},{"s":"ON","t":156.1,"f":3.6},{"s":"ON","t":244,"f":3.6},{"s":"ON","t":253.9,"f":3.8},{"s":"ON","t":263.5,"f":3.99},{"s":"ON","t":282.3,"f":3.99},{"s":"ON","t":291.2,"f":3.86},{"s":"ON","t":300.8,"f":3.99},{"s":"ON","t":348,"f":3.99},
{"s":"K6","t":43,"f":3.0},{"s":"K6","t":139.8,"f":3.0},{"s":"K6","t":142,"f":2.65},{"s":"K6","t":256.4,"f":2.65},{"s":"K6","t":258,"f":3.0},{"s":"K6","t":295.5,"f":3.0},
{"s":"K1","t":34,"f":1.948},{"s":"K1","t":55,"f":1.948},{"s":"K1","t":55.5,"f":1.728},{"s":"K1","t":60.3,"f":1.728},{"s":"K1","t":60.8,"f":1.948},{"s":"K1","t":139.8,"f":1.948},{"s":"K1","t":141,"f":1.525},{"s":"K1","t":256.4,"f":1.525},{"s":"K1","t":257.6,"f":1.948},{"s":"K1","t":295,"f":1.948},
{"s":"K1b","t":339,"f":1.948},{"s":"K1b","t":339.5,"f":1.728},{"s":"K1b","t":343.8,"f":1.728},{"s":"K1b","t":344.3,"f":1.948},
{"s":"SP","t":-20,"f":0.995},{"s":"SP","t":51.2,"f":0.995},{"s":"SP","t":65.5,"f":0.93},{"s":"SP","t":81.5,"f":0.995},{"s":"SP","t":128.7,"f":0.995},{"s":"SP","t":143.7,"f":0.91},{"s":"SP","t":159,"f":0.575},{"s":"SP","t":251.4,"f":0.575},{"s":"SP","t":266.3,"f":0.91},{"s":"SP","t":282.3,"f":0.995},{"s":"SP","t":400,"f":0.995}
],
"bR":[
{"s":"W04","t":-20,"f":6},{"s":"W04","t":140.8,"f":5.5},{"s":"W04","t":219.4,"f":6},{"s":"W04","t":400,"f":6},
{"s":"W2","t":-20,"f":5},{"s":"W2","t":35.2,"f":4.84},{"s":"W2","t":43,"f":5},{"s":"W2","t":147.2,"f":4.68},{"s":"W2","t":214,"f":5},{"s":"W2","t":400,"f":5},
{"s":"ON","t":-20,"f":3.99},{"s":"ON","t":44.8,"f":3.79},{"s":"ON","t":50.1,"f":3.99},{"s":"ON","t":148.6,"f":3.59},{"s":"ON","t":252,"f":3.99},{"s":"ON","t":288.3,"f":3.79},{"s":"ON","t":293.7,"f":3.99},{"s":"ON","t":356,"f":3.99},
{"s":"K6","t":-20,"f":3.0},{"s":"K6","t":139.8,"f":2.65},{"s":"K6","t":256.4,"f":3.0},{"s":"K6","t":400,"f":3.0},
{"s":"K1","t":-3,"f":1.948},{"s":"K1","t":139.8,"f":1.525},{"s":"K1","t":257.1,"f":1.948},{"s":"K1","t":400,"f":1.948},
{"s":"SP","t":-20,"f":0.995},{"s":"SP","t":63.7,"f":0.78},{"s":"SP","t":69,"f":0.995},{"s":"SP","t":146.5,"f":0.57},{"s":"SP","t":265.3,"f":0.995},{"s":"SP","t":400,"f":0.995}
],
"gR":[
{"s":"SPg","t":349,"f":0.995},{"s":"SPg","t":349.2,"f":0.78},{"s":"SPg","t":354.5,"f":0.995},{"s":"SPg","t":354.7,"f":0.995}
],
"lR":[
{"txt":"Wendelstein","t":257,"f":5.5},{"txt":"0.4 m","t":257,"f":5.24},{"txt":"Wendelstein","t":257,"f":4.6},{"txt":"2 m","t":257,"f":4.34},{"txt":"Ondrejov","t":258,"f":3.54},{"txt":"Konkoly","t":268.8,"f":2.38},{"txt":"0.6 m","t":268.8,"f":2.17},{"txt":"Konkoly 1 m","t":258,"f":1.29},{"txt":"Skalnate","t":273,"f":0.485},{"txt":"Pleso","t":273,"f":0.22}
]
},
"hconcat":[
{
"width":395,"height":670,
"resolve":{"axis":{"x":"independent","y":"independent"}},
"layer":[
{"data":{"name":"bL"},"mark":{"type":"line","interpolate":"step-after","color":"#1a1ae6","strokeWidth":3,"clip":true},
"encoding":{"x":{"field":"t","type":"quantitative","scale":{"domain":[-20,400],"nice":false,"zero":false},"axis":{"orient":"bottom","values":[0,100,200,300,400],"ticks":false,"labelPadding":3,"title":null}},
"y":{"field":"f","type":"quantitative","scale":{"domain":[0,5.5],"nice":false,"zero":false},"axis":{"orient":"left","values":[0,1,2,3,4,5],"ticks":false,"labelPadding":6,"title":"Flusso normalizzato","titleFontSize":26,"titlePadding":10}},
"detail":{"field":"s"}}},
{"data":{"name":"rL"},"mark":{"type":"line","color":"#ee1c1c","strokeWidth":3,"clip":true},
"encoding":{"x":{"field":"t","type":"quantitative","scale":{"domain":[-20,400],"nice":false,"zero":false},"axis":{"orient":"bottom","values":[0,100,200,300,400],"labels":false,"tickSize":-10,"title":null}},
"y":{"field":"f","type":"quantitative","scale":{"domain":[0,5.5],"nice":false,"zero":false},"axis":{"orient":"left","values":[0,1,2,3,4,5],"labels":false,"tickSize":-10,"title":null}},
"detail":{"field":"s"}}},
{"data":{"name":"oL"},"transform":[{"filter":"datum.t >= -20 && datum.t <= 400"}],"mark":{"type":"errorbar","color":"black","thickness":1.5},
"encoding":{"x":{"field":"t","type":"quantitative","scale":{"domain":[-20,400],"nice":false,"zero":false},"axis":null},
"y":{"field":"f","type":"quantitative","scale":{"domain":[0,5.5],"nice":false,"zero":false},"axis":null},
"yError":{"field":"e"}}},
{"data":{"name":"oL"},"mark":{"type":"line","color":"black","strokeWidth":2.3,"clip":true},
"encoding":{"x":{"field":"t","type":"quantitative","scale":{"domain":[-20,400],"nice":false,"zero":false},"axis":{"orient":"bottom","values":[0,20,40,60,80,100,120,140,160,180,200,220,240,260,280,300,320,340,360,380,400],"labels":false,"tickSize":-5,"title":null}},
"y":{"field":"f","type":"quantitative","scale":{"domain":[0,5.5],"nice":false,"zero":false},"axis":{"orient":"left","values":[0.2,0.4,0.6,0.8,1,1.2,1.4,1.6,1.8,2,2.2,2.4,2.6,2.8,3,3.2,3.4,3.6,3.8,4,4.2,4.4,4.6,4.8,5,5.2,5.4],"labels":false,"tickSize":-6,"title":null}},
"detail":{"field":"s"}}},
{"data":{"name":"lL"},"mark":{"type":"text","align":"left","baseline":"alphabetic","fontSize":21,"font":"Liberation Sans","color":"black"},
"encoding":{"x":{"field":"t","type":"quantitative","scale":{"domain":[-20,400],"nice":false,"zero":false},"axis":{"orient":"top","values":[0,100,200,300,400],"labels":false,"tickSize":-10,"title":null}},
"y":{"field":"f","type":"quantitative","scale":{"domain":[0,5.5],"nice":false,"zero":false},"axis":{"orient":"right","values":[0,1,2,3,4,5],"labels":false,"tickSize":-10,"title":null}},
"text":{"field":"txt"}}},
{"data":{"values":[{"txt":"Fig.2","t":-72,"f":-0.455}]},"mark":{"type":"text","align":"left","baseline":"alphabetic","fontSize":33,"font":"Liberation Sans","color":"black"},
"encoding":{"x":{"field":"t","type":"quantitative","scale":{"domain":[-20,400],"nice":false,"zero":false},"axis":{"orient":"top","values":[0,20,40,60,80,100,120,140,160,180,200,220,240,260,280,300,320,340,360,380,400],"labels":false,"tickSize":-5,"title":null}},
"y":{"field":"f","type":"quantitative","scale":{"domain":[0,5.5],"nice":false,"zero":false},"axis":{"orient":"right","values":[0.2,0.4,0.6,0.8,1,1.2,1.4,1.6,1.8,2,2.2,2.4,2.6,2.8,3,3.2,3.4,3.6,3.8,4,4.2,4.4,4.6,4.8,5,5.2,5.4],"labels":false,"tickSize":-6,"title":null}},
"text":{"field":"txt"}}},
{"data":{"values":[{"txt":"Tempo a partire da 03:06:00 UT (s)","t":435,"f":-0.37}]},"mark":{"type":"text","align":"center","baseline":"alphabetic","fontSize":21,"font":"Liberation Sans","color":"black"},
"encoding":{"x":{"field":"t","type":"quantitative","scale":{"domain":[-20,400],"nice":false,"zero":false},"axis":null},
"y":{"field":"f","type":"quantitative","scale":{"domain":[0,5.5],"nice":false,"zero":false},"axis":null},
"text":{"field":"txt"}}}
]
},
{
"width":395,"height":670,
"resolve":{"axis":{"x":"independent","y":"independent"}},
"layer":[
{"data":{"name":"bR"},"mark":{"type":"line","interpolate":"step-after","color":"#1a1ae6","strokeWidth":3,"clip":true},
"encoding":{"x":{"field":"t","type":"quantitative","scale":{"domain":[-20,400],"nice":false,"zero":false},"axis":{"orient":"bottom","values":[0,100,200,300,400],"ticks":false,"labelPadding":3,"title":null}},
"y":{"field":"f","type":"quantitative","scale":{"domain":[0,6.5],"nice":false,"zero":false},"axis":{"orient":"left","values":[0,1,2,3,4,5,6],"ticks":false,"labelPadding":7,"title":null}},
"detail":{"field":"s"}}},
{"data":{"name":"rR"},"mark":{"type":"line","color":"#ee1c1c","strokeWidth":3,"clip":true},
"encoding":{"x":{"field":"t","type":"quantitative","scale":{"domain":[-20,400],"nice":false,"zero":false},"axis":{"orient":"bottom","values":[0,100,200,300,400],"labels":false,"tickSize":-10,"title":null}},
"y":{"field":"f","type":"quantitative","scale":{"domain":[0,6.5],"nice":false,"zero":false},"axis":{"orient":"left","values":[0,1,2,3,4,5,6],"labels":false,"tickSize":-10,"title":null}},
"detail":{"field":"s"}}},
{"data":{"name":"gR"},"mark":{"type":"line","interpolate":"step-after","color":"#7ee01e","strokeWidth":3,"clip":true},
"encoding":{"x":{"field":"t","type":"quantitative","scale":{"domain":[-20,400],"nice":false,"zero":false},"axis":{"orient":"top","values":[0,100,200,300,400],"labels":false,"tickSize":-10,"title":null}},
"y":{"field":"f","type":"quantitative","scale":{"domain":[0,6.5],"nice":false,"zero":false},"axis":{"orient":"right","values":[0,1,2,3,4,5,6],"labels":false,"tickSize":-10,"title":null}},
"detail":{"field":"s"}}},
{"data":{"name":"oR"},"transform":[{"filter":"datum.t >= -20 && datum.t <= 400 && (datum.s == 'K6' || datum.s == 'K1')"}],"mark":{"type":"errorbar","color":"#9a9a9a","thickness":1.2},
"encoding":{"x":{"field":"t","type":"quantitative","scale":{"domain":[-20,400],"nice":false,"zero":false},"axis":null},
"y":{"field":"f","type":"quantitative","scale":{"domain":[0,6.5],"nice":false,"zero":false},"axis":null},
"yError":{"field":"e"}}},
{"data":{"name":"oR"},"transform":[{"filter":"datum.t >= -20 && datum.t <= 400 && datum.s != 'K6' && datum.s != 'K1'"}],"mark":{"type":"errorbar","color":"black","thickness":1.5},
"encoding":{"x":{"field":"t","type":"quantitative","scale":{"domain":[-20,400],"nice":false,"zero":false},"axis":null},
"y":{"field":"f","type":"quantitative","scale":{"domain":[0,6.5],"nice":false,"zero":false},"axis":null},
"yError":{"field":"e"}}},
{"data":{"name":"oR"},"mark":{"type":"line","color":"black","strokeWidth":2.3,"clip":true},
"encoding":{"x":{"field":"t","type":"quantitative","scale":{"domain":[-20,400],"nice":false,"zero":false},"axis":{"orient":"bottom","values":[0,20,40,60,80,100,120,140,160,180,200,220,240,260,280,300,320,340,360,380,400],"labels":false,"tickSize":-5,"title":null}},
"y":{"field":"f","type":"quantitative","scale":{"domain":[0,6.5],"nice":false,"zero":false},"axis":{"orient":"left","values":[0.2,0.4,0.6,0.8,1,1.2,1.4,1.6,1.8,2,2.2,2.4,2.6,2.8,3,3.2,3.4,3.6,3.8,4,4.2,4.4,4.6,4.8,5,5.2,5.4,5.6,5.8,6,6.2,6.4],"labels":false,"tickSize":-6,"title":null}},
"detail":{"field":"s"}}},
{"data":{"name":"oR"},"transform":[{"filter":"datum.s == 'K6'"}],"mark":{"type":"line","color":"black","strokeWidth":3.2,"clip":true},
"encoding":{"x":{"field":"t","type":"quantitative","scale":{"domain":[-20,400],"nice":false,"zero":false},"axis":null},
"y":{"field":"f","type":"quantitative","scale":{"domain":[0,6.5],"nice":false,"zero":false},"axis":null}}},
{"data":{"name":"lR"},"mark":{"type":"text","align":"left","baseline":"alphabetic","fontSize":20,"font":"Liberation Sans","color":"black"},
"encoding":{"x":{"field":"t","type":"quantitative","scale":{"domain":[-20,400],"nice":false,"zero":false},"axis":{"orient":"top","values":[0,20,40,60,80,100,120,140,160,180,200,220,240,260,280,300,320,340,360,380,400],"labels":false,"tickSize":-5,"title":null}},
"y":{"field":"f","type":"quantitative","scale":{"domain":[0,6.5],"nice":false,"zero":false},"axis":{"orient":"right","values":[0.2,0.4,0.6,0.8,1,1.2,1.4,1.6,1.8,2,2.2,2.4,2.6,2.8,3,3.2,3.4,3.6,3.8,4,4.2,4.4,4.6,4.8,5,5.2,5.4,5.6,5.8,6,6.2,6.4],"labels":false,"tickSize":-6,"title":null}},
"text":{"field":"txt"}}}
]
}
]
}
